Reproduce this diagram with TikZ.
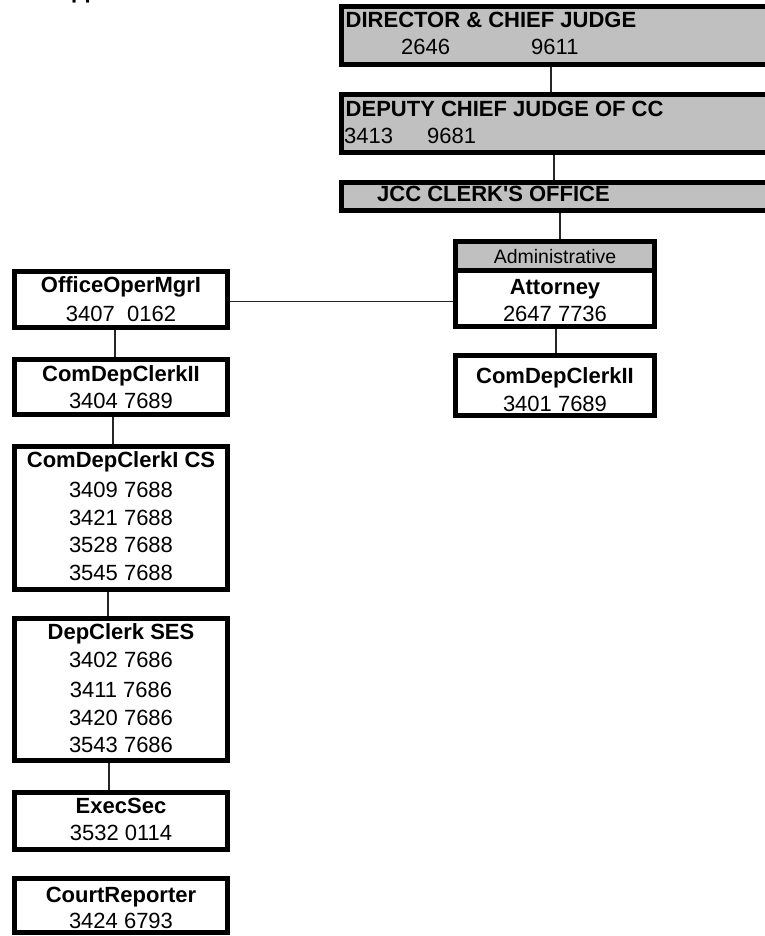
\documentclass[tikz,border=0pt]{standalone}
\usepackage{fontspec}
\setmainfont{Liberation Sans}
\definecolor{boxgray}{HTML}{C0C0C0}
\tikzset{
  box/.style={draw=black, line width=4.8pt, inner sep=0pt, rectangle},
  graybox/.style={box, fill=boxgray},
  conn/.style={draw=black!85, line width=1.4pt},
  ttl/.style={font=\fontsize{22}{26}\selectfont\bfseries, anchor=base, inner sep=0pt},
  num/.style={font=\fontsize{22}{26}\selectfont, anchor=base, inner sep=0pt},
}
\begin{document}
\begin{tikzpicture}[x=1pt, y=-1pt]
\useasboundingbox (0,0) rectangle (764,936);

% cut-off heading fragment at the top edge
\node[ttl, anchor=base west] (frag) at (71,-1.5) {pp};

% top grey boxes (running off the right edge)
\node[graybox, minimum width=446.2, minimum height=58.2] (b1) at (564.5,35.5) {};
\node[graybox, minimum width=446.2, minimum height=58.2] (b2) at (564.5,123.5) {};
\node[graybox, minimum width=446.2, minimum height=28.2] (b3) at (564.5,196.5) {};

\node[ttl, anchor=base west] (t1) at (345.5,28) {DIRECTOR \& CHIEF JUDGE};
\node[num, anchor=base west] (t1n) at (401,55) {2646};
\node[num, anchor=base west] (t1m) at (531,55) {9611};
\node[ttl, anchor=base west] (t2) at (345.5,116.5) {DEPUTY CHIEF JUDGE OF CC};
\node[num, anchor=base west] (t2n) at (344,144) {3413};
\node[num, anchor=base west] (t2m) at (427,144) {9681};
\node[ttl, anchor=base west] (t3) at (377,201) {JCC CLERK\textquotesingle S OFFICE};

% right column
\node[box, minimum width=199.2, minimum height=85.2,
  path picture={
    \fill[boxgray] (path picture bounding box.north west) rectangle ([yshift=-29.1]path picture bounding box.north east);
    \draw[line width=4.8pt] ([yshift=-29.1]path picture bounding box.north west) -- ([yshift=-29.1]path picture bounding box.north east);
  }] (adm) at (555,284) {};
\node[num, font=\fontsize{19.5}{24}\selectfont] (admt) at (555,263) {Administrative};
\node[ttl] (attt) at (555,294) {Attorney};
\node[num] (attn) at (555,321.5) {2647 7736};

\node[box, minimum width=199.2, minimum height=60.2] (cdr) at (555,385.5) {};
\node[ttl] (cdrt) at (555,383) {ComDepClerkII};
\node[num] (cdrn) at (555,411) {3401 7689};

% left column
\node[box, minimum width=213.2, minimum height=56.2] (omm) at (121,299.5) {};
\node[ttl] (ommt) at (121,292) {OfficeOperMgrI};
\node[num] (ommn) at (121,321) {3407\ \ 0162};

\node[box, minimum width=213.2, minimum height=55.2] (cdl) at (121,387) {};
\node[ttl] (cdlt) at (121,381) {ComDepClerkII};
\node[num] (cdln) at (121,408) {3404 7689};

\node[box, minimum width=213.2, minimum height=143.2] (cd1) at (121,518) {};
\node[ttl] (cd1t) at (121,467) {ComDepClerkI CS};
\node[num] (cd1a) at (121,497.5) {3409 7688};
\node[num] (cd1b) at (121,525) {3421 7688};
\node[num] (cd1c) at (121,552.5) {3528 7688};
\node[num] (cd1d) at (121,580) {3545 7688};

\node[box, minimum width=213.2, minimum height=142.2] (dcs) at (121,689.5) {};
\node[ttl] (dcst) at (121,639) {DepClerk SES};
\node[num] (dcsa) at (121,667.5) {3402 7686};
\node[num] (dcsb) at (121,697.5) {3411 7686};
\node[num] (dcsc) at (121,725) {3420 7686};
\node[num] (dcsd) at (121,752.7) {3543 7686};

\node[box, minimum width=213.2, minimum height=57.2] (es) at (121,821) {};
\node[ttl] (est) at (121,813) {ExecSec};
\node[num] (esn) at (121,840) {3532 0114};

\node[box, minimum width=213.2, minimum height=54.2] (cr) at (121,905.5) {};
\node[ttl] (crt) at (121,902) {CourtReporter};
\node[num] (crn) at (121,928) {3424 6793};

% connectors
\draw[conn] ([xshift=-13.5]b1.south) -- ([xshift=-13.5]b2.north);
\draw[conn] ([xshift=-10.5]b2.south) -- ([xshift=-10.5]b3.north);
\draw[conn] ([xshift=-4.5]b3.south) -- ([xshift=5]adm.north);
\draw[conn] ([yshift=-2]omm.east) coordinate (hs) -- (hs -| adm.west);
\draw[conn] ([xshift=1]adm.south) -- ([xshift=1]cdr.north);
\draw[conn] ([xshift=-6]omm.south) -- ([xshift=-6]cdl.north);
\draw[conn] ([xshift=-8]cdl.south) -- ([xshift=-8]cd1.north);
\draw[conn] ([xshift=-13]cd1.south) -- ([xshift=-13]dcs.north);
\draw[conn] ([xshift=-12]dcs.south) -- ([xshift=-12]es.north);
\end{tikzpicture}
\end{document}
